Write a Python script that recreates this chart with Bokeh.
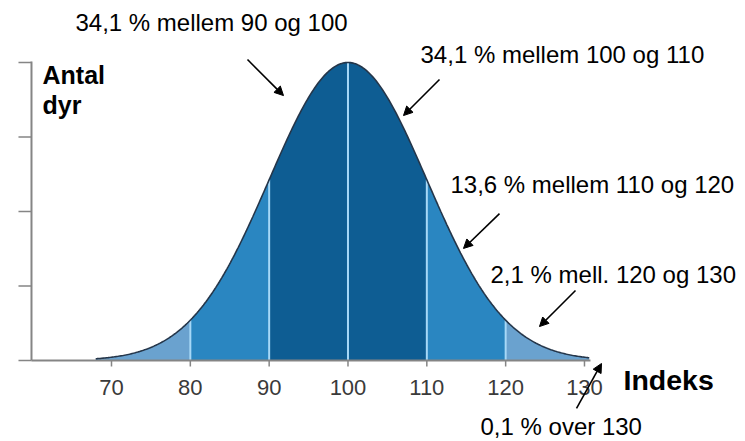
import numpy as np
from bokeh.plotting import figure
from bokeh.models import Label, Arrow, NormalHead, Range1d
from bokeh.core.properties import value
from bokeh.embed import file_html
from bokeh.resources import INLINE

# ---- data ----
mean = 100
sd = 10
band_edges = [68, 80, 90, 110, 120, 130.6]
band_colors = ["#6aa2cf", "#2a86c1", "#0e5d93", "#2a86c1", "#6aa2cf"]
divider_x = [80, 90, 100, 110, 120]
x_ticks = [70, 80, 90, 100, 110, 120, 130]
x_tick_labels = ["70", "80", "90", "100", "110", "120", "130"]
y_ticks = [0, 0.25, 0.5, 0.75, 1.0]
axis_x_start, axis_x_end = 59.85, 130.76
axis_y_end = 1.0034

ann_texts = ["34,1 % mellem 90 og 100", "34,1 % mellem 100 og 110",
             "13,6 % mellem 110 og 120", "2,1 % mell. 120 og 130",
             "0,1 % over 130"]
ann_x = [65.43, 109.2, 113.0, 118.08, 116.81]
ann_y = [1.134, 1.027, 0.590, 0.288, -0.222]
arrow_start = [(87.25, 1.010), (111.61, 0.943), (119.22, 0.493), (128.86, 0.235), (128.99, -0.161)]
arrow_end = [(91.82, 0.889), (107.04, 0.822), (114.65, 0.376), (124.29, 0.114), (132.16, -0.010)]


def density(x):
    x = np.asarray(x, dtype=float)
    return np.exp(-0.5 * ((x - mean) / sd) ** 2)


# frame fills the whole figure
W, H = 745, 441
xr = Range1d(55.919, 150.426)
yr = Range1d(-0.2718, 1.2081)
px_x = (xr.end - xr.start) / W
px_y = (yr.end - yr.start) / H

p = figure(width=W, height=H, output_backend="svg", toolbar_location=None,
           x_range=xr, y_range=yr, x_axis_type=None, y_axis_type=None,
           min_border=0, background_fill_color="white", border_fill_color="white")
p.outline_line_color = None
p.grid.visible = False

# filled bands
for lo, hi, col in zip(band_edges[:-1], band_edges[1:], band_colors):
    xs = np.linspace(lo, hi, 80)
    p.varea(x=xs, y1=np.zeros_like(xs), y2=density(xs), fill_color=col)

# dividers
p.segment(x0=divider_x, y0=[0] * len(divider_x), x1=divider_x, y1=density(divider_x),
          line_color="#a6d8f7", line_width=2)

# axes (drawn through the plot's scales)
axis_col = "#858585"
p.segment(x0=[axis_x_start], y0=[0], x1=[axis_x_start], y1=[axis_y_end],
          line_color=axis_col, line_width=2)
p.segment(x0=[axis_x_start - 13 * px_x] * len(y_ticks), y0=y_ticks,
          x1=[axis_x_start] * len(y_ticks), y1=y_ticks,
          line_color=axis_col, line_width=1.6)
p.segment(x0=[axis_x_start], y0=[0], x1=[axis_x_end], y1=[0],
          line_color=axis_col, line_width=2)
p.segment(x0=x_ticks, y0=[0] * len(x_ticks), x1=x_ticks, y1=[-6 * px_y] * len(x_ticks),
          line_color=axis_col, line_width=1.5)
p.text(x=x_ticks, y=[-27 * px_y] * len(x_ticks), text=x_tick_labels,
       text_font=value("Liberation Sans"), text_font_size="22px",
       text_color="#3a3a3a", text_align="center", text_baseline="alphabetic")

# curve outline
xc = np.linspace(band_edges[0], band_edges[-1], 400)
p.line(xc, density(xc), line_color="#25364a", line_width=1.6)

font = "Liberation Sans"
for t, x, y in zip(ann_texts, ann_x, ann_y):
    p.add_layout(Label(x=x, y=y, text=t, text_font=font, text_font_size="24px",
                       text_color="black", text_baseline="alphabetic"))

p.add_layout(Label(x=61.25, y=0.9595, text="Antal", text_font=font, text_font_style="bold",
                   text_font_size="25px", text_color="black", text_baseline="alphabetic"))
p.add_layout(Label(x=61.25, y=0.859, text="dyr", text_font=font, text_font_style="bold",
                   text_font_size="25px", text_color="black", text_baseline="alphabetic"))
p.add_layout(Label(x=134.95, y=-0.064, text="Indeks", text_font=font, text_font_style="bold",
                   text_font_size="28.5px", text_color="black", text_baseline="alphabetic"))

for (xs0, ys0), (xe, ye) in zip(arrow_start, arrow_end):
    p.add_layout(Arrow(end=NormalHead(size=9, fill_color="black", line_color="black", line_width=1),
                       x_start=xs0, y_start=ys0, x_end=xe, y_end=ye,
                       line_color="black", line_width=1.6))

open("out.html", "w").write(file_html(p, INLINE))
